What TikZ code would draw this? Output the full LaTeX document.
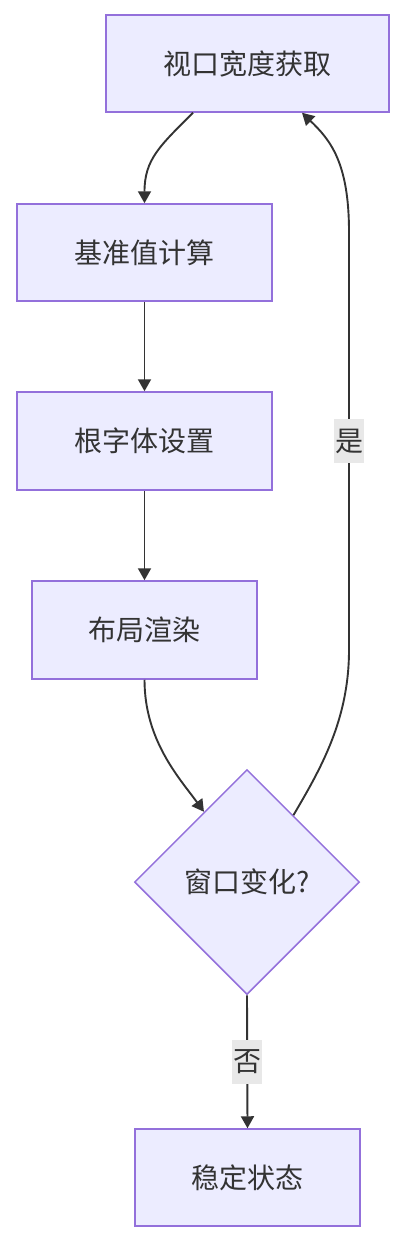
\documentclass[tikz,border=0pt]{standalone}
\usepackage{fontspec}
\setmainfont{Noto Sans CJK SC}
\usetikzlibrary{shapes.geometric,arrows.meta,calc}
\definecolor{nodefill}{HTML}{ECECFF}
\definecolor{nodeline}{HTML}{9370DB}
\definecolor{txt}{HTML}{333333}
\definecolor{edge}{HTML}{333333}
\definecolor{lblbg}{HTML}{E8E8E8}
\begin{document}
\begin{tikzpicture}[x=1pt,y=-1pt,
  box/.style={draw=nodeline,fill=nodefill,line width=1.5pt,inner sep=0pt,
    text=txt,font=\fontsize{28}{32}\selectfont},
  dia/.style={diamond,aspect=1,draw=nodeline,fill=nodefill,line width=1.5pt,inner sep=0pt,
    minimum width=225pt,minimum height=225pt,text=txt,font=\fontsize{28}{32}\selectfont},
  conn/.style={draw=edge,line width=1.9pt,-{Triangle[length=12pt,width=13pt]}},
  lbl/.style={fill=lblbg,inner sep=0pt,minimum width=30pt,minimum height=44pt,
    text=txt,font=\fontsize{28}{32}\selectfont}]
\useasboundingbox (0,0) rectangle (404,1244);
\node[box,minimum width=283pt,minimum height=97pt] (v) at (247.5,63.5) {视口宽度获取};
\node[box,minimum width=255pt,minimum height=97pt] (b) at (144.5,252.5) {基准值计算};
\node[box,minimum width=255pt,minimum height=98pt] (r) at (144.5,441) {根字体设置};
\node[box,minimum width=225pt,minimum height=98pt] (l) at (144.5,630) {布局渲染};
\node[dia] (d) at (247,882) {窗口变化?};
\node[box,minimum width=225pt,minimum height=97pt] (s) at (247.5,1177.5) {稳定状态};
\coordinate (vout) at ([xshift=-54.5pt]v.south);
\coordinate (vin) at ([xshift=54.5pt]v.south);
\coordinate (din) at ($(d.north)!0.38!(d.west)$);
\coordinate (dout) at ($(d.north)!0.41!(d.east)$);
\coordinate (c1) at (349,650);
\coordinate (c2) at (349,232);
\draw[conn] (vout) .. controls +(-33,33) and +(0,-44) .. (b.north);
\draw[conn] (b.south) -- (r.north);
\draw[conn] (r.south) -- (l.north);
\draw[conn] (l.south) .. controls +(0,61) and +(-24,-33) .. (din);
\draw[conn] (dout) .. controls +(27,-46) and +(0,70) .. (c1) -- node[lbl] (yes) {是} (c2) .. controls +(0,-70) and +(28,27) .. (vin);
\draw[conn] (d.south) -- node[lbl] (no) {否} (s.north);
\end{tikzpicture}
\end{document}
